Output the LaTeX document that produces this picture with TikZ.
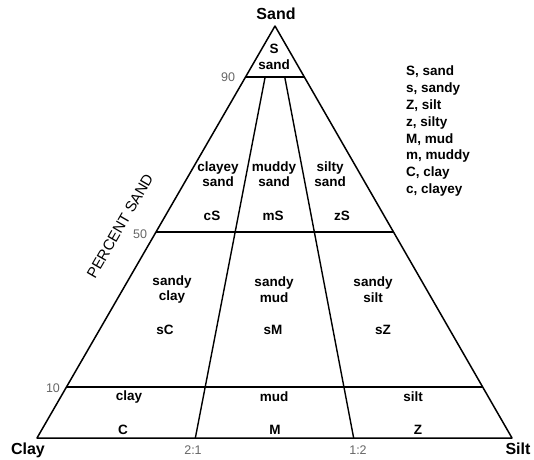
\documentclass[tikz,border=0pt]{standalone}
\usepackage{fontspec}
\setmainfont{Liberation Sans}
\usetikzlibrary{calc}

\begin{document}
\begin{tikzpicture}[x=1pt,y=-1pt,
  edge/.style={line width=1.5pt,line join=round},
  divide/.style={line width=1.4pt},
  corner/.style={font=\bfseries\fontsize{16}{18}\selectfont,inner sep=0pt},
  cls/.style={font=\bfseries\fontsize{13.5}{15.5}\selectfont,align=center,inner sep=0pt},
  tick/.style={font=\fontsize{12.5}{14}\selectfont,text=black!60,inner sep=0pt},
  key/.style={font=\bfseries\fontsize{13.5}{16.8}\selectfont,align=left,inner sep=0pt}]
  \useasboundingbox (0,0) rectangle (534,459);
  % corners of the triangle
  \coordinate (sand) at (275,26);
  \coordinate (clay) at (37,438);
  \coordinate (silt) at (512,438);
  % percent sand lines
  \coordinate (l90) at ($(sand)!0.124!(clay)$); \coordinate (r90) at ($(sand)!0.124!(silt)$);
  \coordinate (l50) at ($(sand)!0.5!(clay)$);   \coordinate (r50) at ($(sand)!0.5!(silt)$);
  \coordinate (l10) at ($(sand)!0.876!(clay)$); \coordinate (r10) at ($(sand)!0.876!(silt)$);
  % clay:silt ratio lines
  \coordinate (b21) at ($(clay)!1/3!(silt)$);   \coordinate (t21) at ($(b21)!0.876!(sand)$);
  \coordinate (b12) at ($(clay)!2/3!(silt)$);   \coordinate (t12) at ($(b12)!0.876!(sand)$);
  \draw[edge] (sand)--(silt)--(clay)--cycle;
  \draw[divide] (l90)--(r90);
  \draw[divide] (l50)--(r50);
  \draw[divide] (l10)--(r10);
  \draw[divide] (b21)--(t21);
  \draw[divide] (b12)--(t12);
  % corner names
  \node[corner] (nsand) at (276,14) {Sand};
  \node[corner] (nclay) at (28,450) {Clay};
  \node[corner] (nsilt) at (518,449) {Silt};
  % ticks
  \node[tick] (p90) at (228,77.5) {90};
  \node[tick] (p50) at (140,234) {50};
  \node[tick] (p10) at (53,388) {10};
  \node[tick] (q21) at (193,450) {2:1};
  \node[tick] (q12) at (358,450) {1:2};
  \node[font=\fontsize{15}{17}\selectfont,rotate=60] (axis) at (120,226) {PERCENT SAND};
  % classes
  \node[cls] (cS0) at (274,57) {S\\[0.5pt]sand};
  \node[cls] (ccs) at (218,174) {clayey\\sand};  \node[cls] (ccs2) at (212,216) {cS};
  \node[cls] (cms) at (274,174) {muddy\\sand};   \node[cls] (cms2) at (273,216) {mS};
  \node[cls] (czs) at (330,174) {silty\\sand};   \node[cls] (czs2) at (342,216) {zS};
  \node[cls] (csc) at (172,289.5) {sandy\\clay}; \node[cls] (csc2) at (165,330) {sC};
  \node[cls] (csm) at (274,289.5) {sandy\\mud};  \node[cls] (csm2) at (273,330) {sM};
  \node[cls] (csz) at (373,289.5) {sandy\\silt}; \node[cls] (csz2) at (383,330) {sZ};
  \node[cls] (cc) at (129,397) {clay}; \node[cls] (cc2) at (123,430) {C};
  \node[cls] (cm) at (274,397) {mud};  \node[cls] (cm2) at (275,430) {M};
  \node[cls] (cz) at (413,397) {silt}; \node[cls] (cz2) at (418,430) {Z};
  % key
  \node[key,anchor=north west] (legend) at (406,66)
    {S, sand\\s, sandy\\Z, silt\\z, silty\\M, mud\\m, muddy\\C, clay\\c, clayey};
\end{tikzpicture}
\end{document}
